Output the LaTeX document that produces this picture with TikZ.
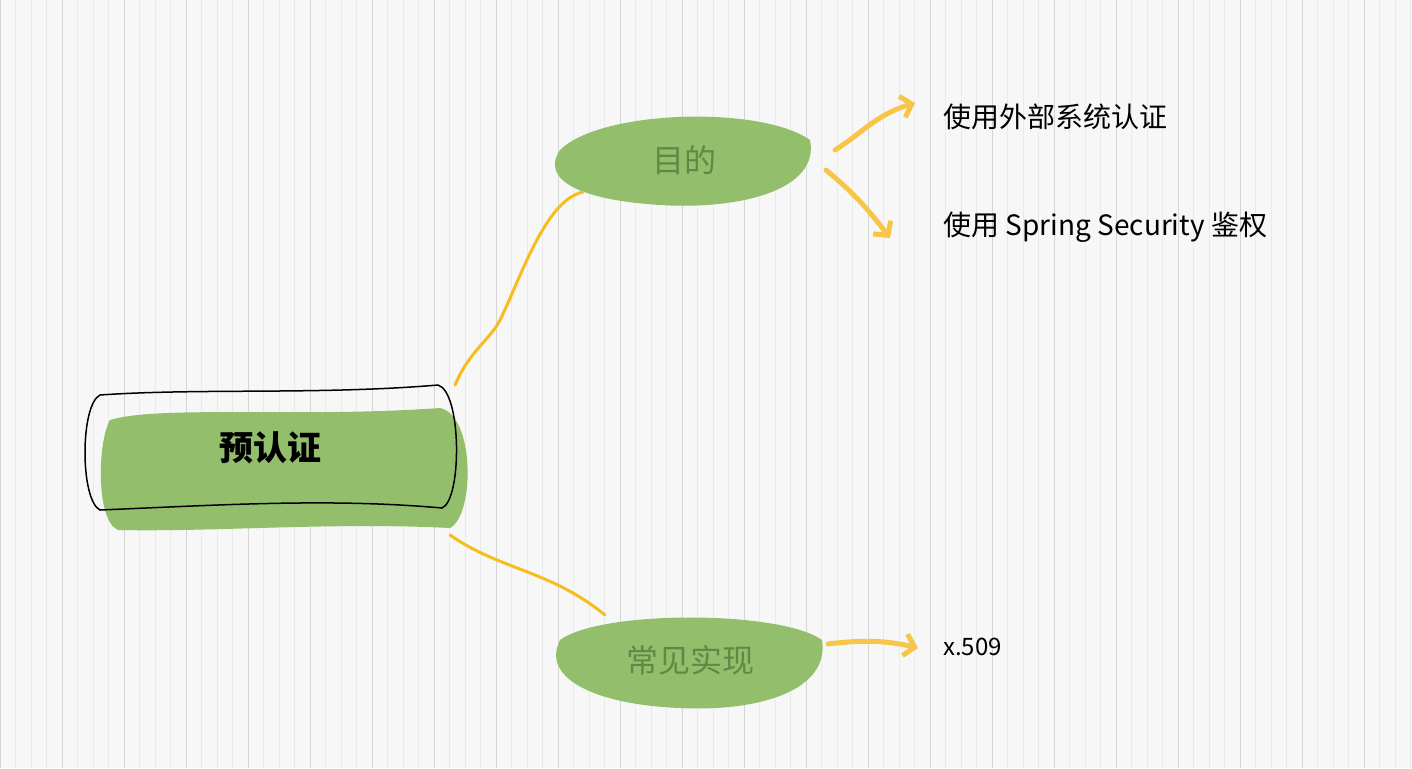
\documentclass[tikz,border=0pt]{standalone}
\usepackage{fontspec}
\setmainfont{Noto Sans CJK SC}
\newfontfamily\cjkbold[BoldFont={Noto Sans CJK SC Bold}]{Noto Sans CJK SC}
\usetikzlibrary{arrows.meta}
\definecolor{bg}{HTML}{F7F7F7}
\definecolor{gridc}{HTML}{EAEAEA}
\definecolor{leaf}{HTML}{93BF6D}
\definecolor{leaftext}{HTML}{5E8A45}
\definecolor{link}{HTML}{F5BE1E}
\definecolor{arr}{HTML}{F7C548}
\tikzset{
  blob/.style={fill=leaf, draw=none},
  link/.style={draw=link, line width=3pt, line cap=round},
  arrowline/.style={draw=arr, line width=5pt, line cap=round, -{Straight Barb[length=10pt,width=22pt,line width=5pt]}},
  subtext/.style={font=\fontsize{32}{36}\selectfont, text=leaftext},
  leaftxt/.style={font=\fontsize{28}{32}\selectfont, anchor=west}
}
\begin{document}
\begin{tikzpicture}[x=1pt,y=-1pt]
\fill[bg] (0,0) rectangle (1412,768);
\useasboundingbox (0,0) rectangle (1412,768);
\draw[gridc, line width=0.4pt, step=15.5] (0,0) grid (1412,768);
\draw[gridc!80!gray, line width=0.8pt, step=62] (0,0) grid (1412,768);
% central
\fill[blob] (110,420) .. controls (160,405) and (300,418) .. (440,408) .. controls (475,415) and (475,515) .. (450,528) .. controls (330,522) and (220,532) .. (118,530) .. controls (95,520) and (98,440) .. (110,420) -- cycle;
\draw[black, line width=1.5pt] (100,395) .. controls (200,388) and (320,395) .. (438,385) .. controls (462,392) and (462,500) .. (442,508) .. controls (330,498) and (220,505) .. (100,510) .. controls (80,500) and (80,405) .. (100,395) -- cycle;
\node[font=\fontsize{34}{38}\selectfont\bfseries] (root) at (270,448) {预认证};
% goal
\fill[blob] (560,150) .. controls (600,110) and (760,105) .. (810,140) .. controls (820,190) and (740,210) .. (660,205) .. controls (580,200) and (540,180) .. (560,150) -- cycle;
\node[subtext] (goal) at (684,160) {目的};
% impl
\fill[blob] (560,640) .. controls (600,610) and (780,610) .. (822,640) .. controls (830,690) and (760,712) .. (680,708) .. controls (600,705) and (540,680) .. (560,640) -- cycle;
\node[subtext] (impl) at (690,660) {常见实现};
% links
\coordinate (r1) at (455,385);
\coordinate (g1) at (583,192);
\coordinate (r2) at (450,535);
\coordinate (i1) at (605,615);
\draw[link] (r1) .. controls (470,350) and (490,340) .. (500,320) .. controls (520,280) and (545,200) .. (g1);
\draw[link] (r2) .. controls (500,570) and (550,570) .. (i1);
% arrows
\node[leaftxt] (t1) at (940,117) {使用外部系统认证};
\node[leaftxt] (t2) at (940,227) {使用 Spring Security 鉴权};
\node[leaftxt, font=\fontsize{24}{28}\selectfont] (t3) at (940,647) {x.509};
\coordinate (a1) at (835,150);
\coordinate (a2) at (826,170);
\coordinate (a3) at (828,644);
\draw[arrowline] (a1) .. controls (860,135) and (875,115) .. (915,103);
\draw[arrowline] (a2) .. controls (850,190) and (865,205) .. (890,238);
\draw[arrowline] (a3) .. controls (860,640) and (885,640) .. (918,648);
\end{tikzpicture}
\end{document}
